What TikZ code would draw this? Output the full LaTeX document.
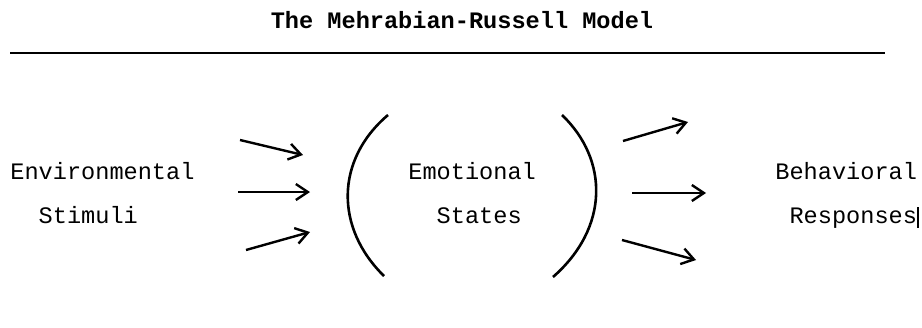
\documentclass[tikz,border=0pt]{standalone}
\usepackage{fontspec}
\setmonofont{Liberation Mono}
\usetikzlibrary{arrows.meta}

\begin{document}
\begin{tikzpicture}[x=0.5pt,y=-0.5pt,font=\ttfamily\fontsize{11.8}{22}\selectfont,>={Straight Barb[length=6pt,width=8pt]}]
\tikzset{lbl/.style={anchor=base west,align=left,inner sep=0pt},
  arr/.style={->,line width=1.2pt},
  paren/.style={line width=1.3pt}}
\useasboundingbox (0,0) rectangle (922,327);
% title and rule
\node[inner sep=0pt,anchor=base,font=\ttfamily\bfseries\fontsize{11.8}{14}\selectfont] (title) at (462,28) {The Mehrabian-Russell Model};
\coordinate (ruleL) at (10,53); \coordinate (ruleR) at (885,53);
\draw[line width=0.8pt] (ruleL) -- (ruleR);
% the three labels (base = last line)
\node[lbl] (stim) at (10,223) {Environmental\\\phantom{xx}Stimuli};
\node[lbl] (emo) at (408,223) {Emotional\\\phantom{xx}States};
\node[lbl] (resp) at (775,223) {Behavioral\\\phantom{x}Responses};
% brackets round the emotional states
\coordinate (lpT) at (388,115); \coordinate (lpB) at (384,276);
\coordinate (rpT) at (562,115); \coordinate (rpB) at (553,277);
\draw[paren] (lpT) .. controls (335,160) and (335,228) .. (lpB);
\draw[paren] (rpT) .. controls (609,160) and (609,228) .. (rpB);
% arrows in and out
\foreach \i/\a/\b in {1/{240,140}/{303,155},2/{238,192}/{310,192},3/{246,250}/{310,232},
                      4/{623,141}/{688,122},5/{632,193}/{706,193},6/{622,240}/{696,260}}{
  \coordinate (s\i) at (\a); \coordinate (e\i) at (\b);
  \draw[arr] (s\i) -- (e\i);
}
\coordinate (barT) at (918,207); \coordinate (barB) at (918,228);
\draw[line width=0.7pt] (barT) -- (barB);
\end{tikzpicture}
\end{document}
